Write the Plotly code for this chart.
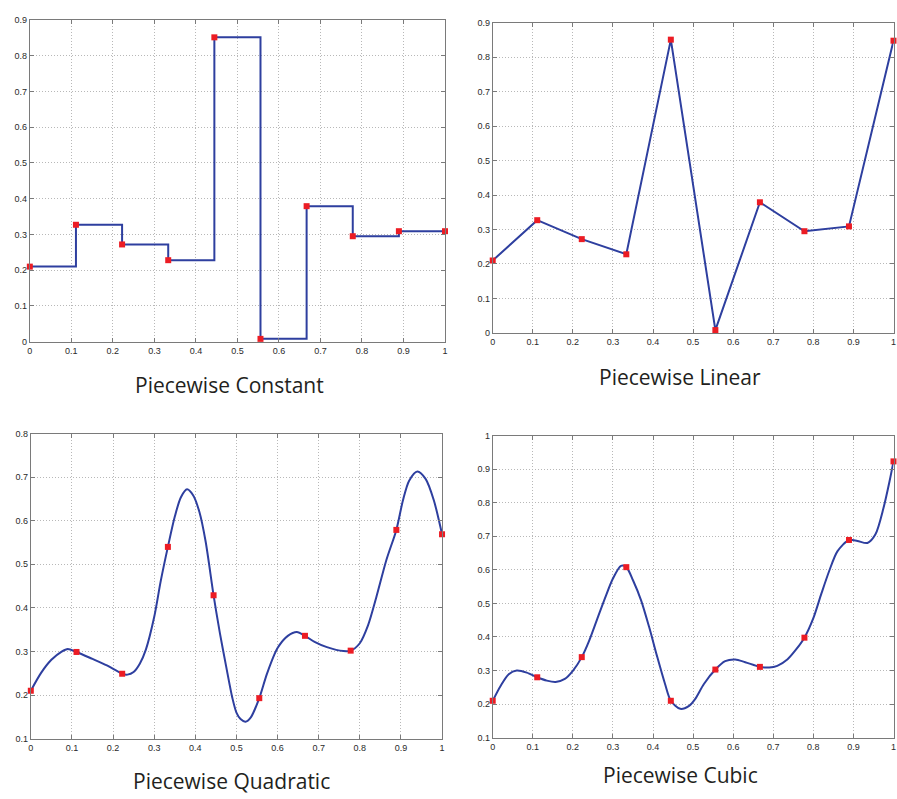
import plotly.graph_objects as go

# Sample abscissae shared by all four panels
knot_x = [0.0, 1/9, 2/9, 3/9, 4/9, 5/9, 6/9, 7/9, 8/9, 1.0]

# Data values for each panel
const_y = [0.21, 0.327, 0.272, 0.228, 0.851, 0.008, 0.379, 0.295, 0.309, 0.309]
linear_y = [0.21, 0.327, 0.272, 0.228, 0.851, 0.008, 0.379, 0.295, 0.309, 0.848]
quad_y = [0.21, 0.299, 0.249, 0.54, 0.429, 0.193, 0.336, 0.302, 0.579, 0.569]
cubic_y = [0.21, 0.28, 0.34, 0.608, 0.21, 0.303, 0.311, 0.398, 0.689, 0.923]

# Interpolating curves (quadratic and cubic pieces)
quad_curve_x = [0.0, 0.025, 0.05, 0.075, 0.09, 1/9, 0.15, 0.185, 2/9, 0.235, 0.25,
                0.265, 0.28, 0.3, 0.316, 3/9, 0.35, 0.365, 0.38, 0.395, 0.41, 0.425,
                4/9, 0.46, 0.475, 0.49, 0.5, 0.51, 0.522, 0.535, 5/9, 0.575, 0.6,
                0.625, 0.647, 6/9, 0.69, 0.72, 0.76, 7/9, 0.8, 0.82, 0.84, 0.865,
                8/9, 0.905, 0.92, 0.94, 0.96, 0.98, 1.0]
quad_curve_y = [0.21, 0.251, 0.281, 0.30, 0.306, 0.299, 0.283, 0.268, 0.249, 0.247, 0.253,
                0.272, 0.305, 0.379, 0.462, 0.54, 0.609, 0.654, 0.672, 0.658, 0.62, 0.553,
                0.429, 0.341, 0.266, 0.194, 0.16, 0.145, 0.139, 0.149, 0.193, 0.251, 0.308,
                0.336, 0.345, 0.336, 0.322, 0.31, 0.301, 0.302, 0.319, 0.36, 0.424, 0.511,
                0.579, 0.647, 0.692, 0.713, 0.696, 0.647, 0.569]

cubic_curve_x = [0.0, 0.02, 0.04, 0.06, 0.085, 1/9, 0.135, 0.157, 0.18, 0.2, 2/9,
                 0.24, 0.26, 0.28, 0.3, 0.32, 3/9, 0.35, 0.37, 0.39, 0.41, 0.43,
                 4/9, 0.468, 0.49, 0.505, 0.527, 5/9, 0.58, 0.605, 0.63, 6/9, 0.69,
                 0.71, 0.735, 0.757, 7/9, 0.8, 0.82, 0.84, 0.86, 8/9, 0.91, 0.935,
                 0.955, 0.975, 0.99, 1.0]
cubic_curve_y = [0.21, 0.255, 0.289, 0.30, 0.294, 0.28, 0.27, 0.266, 0.275, 0.299, 0.34,
                 0.387, 0.451, 0.515, 0.574, 0.612, 0.608, 0.569, 0.51, 0.431, 0.343, 0.26,
                 0.21, 0.186, 0.195, 0.215, 0.26, 0.303, 0.328, 0.333, 0.325, 0.311, 0.309,
                 0.314, 0.333, 0.363, 0.398, 0.456, 0.529, 0.598, 0.655, 0.689, 0.686, 0.68,
                 0.706, 0.784, 0.863, 0.923]

titles = ["Piecewise Constant", "Piecewise Linear", "Piecewise Quadratic", "Piecewise Cubic"]

x_ticks = [i / 10 for i in range(11)]
x_tick_text = ["0", "0.1", "0.2", "0.3", "0.4", "0.5", "0.6", "0.7", "0.8", "0.9", "1"]
y_ranges = [(0.0, 0.9), (0.0, 0.9), (0.1, 0.8), (0.1, 1.0)]

LINE = "#2e3f9f"
MARK = "#ec1c24"
W, H = 897, 799

# Panel boxes in pixels: (left, right, top, bottom)
boxes = [(27, 445, 15, 341), (493, 896.5, 18, 332), (28, 442, 434, 743), (493, 896.5, 436, 742)]

fig = go.Figure()

# Curves
fig.add_trace(go.Scatter(x=knot_x, y=const_y, mode="lines", line=dict(color=LINE, width=2, shape="hv"),
                         xaxis="x", yaxis="y"))
fig.add_trace(go.Scatter(x=knot_x, y=linear_y, mode="lines", line=dict(color=LINE, width=2),
                         xaxis="x2", yaxis="y2"))
fig.add_trace(go.Scatter(x=quad_curve_x, y=quad_curve_y, mode="lines",
                         line=dict(color=LINE, width=2, shape="spline", smoothing=0.8),
                         xaxis="x3", yaxis="y3"))
fig.add_trace(go.Scatter(x=cubic_curve_x, y=cubic_curve_y, mode="lines",
                         line=dict(color=LINE, width=2, shape="spline", smoothing=0.8),
                         xaxis="x4", yaxis="y4"))

# Data markers
for i, ys in enumerate([const_y, linear_y, quad_y, cubic_y]):
    sfx = "" if i == 0 else str(i + 1)
    fig.add_trace(go.Scatter(x=knot_x, y=ys, mode="markers", cliponaxis=False,
                             marker=dict(symbol="square", size=6, color=MARK, line=dict(width=0)),
                             xaxis="x" + sfx, yaxis="y" + sfx))

axis_common = dict(
    showgrid=True, gridcolor="#b8b8b8", griddash="1px,2px", gridwidth=1,
    showline=True, linecolor="#7a7a7a", linewidth=1, mirror="ticks",
    ticks="inside", ticklen=4, tickcolor="#7a7a7a",
    tickfont=dict(family="Liberation Sans, Arial", size=9, color="#2a2a2a"),
    ticklabeloverflow="allow",
    zeroline=False, fixedrange=True,
)

layout = dict(width=W, height=H, margin=dict(l=0, r=0, t=0, b=0),
              paper_bgcolor="white", plot_bgcolor="white", showlegend=False)

for i, (l, r, t, b) in enumerate(boxes):
    sfx = "" if i == 0 else str(i + 1)
    lo, hi = y_ranges[i]
    y_ticks = [round(lo + k * 0.1, 1) for k in range(int(round((hi - lo) / 0.1)) + 1)]
    y_text = [("%g" % v) for v in y_ticks]
    layout["xaxis" + sfx] = dict(axis_common, domain=[l / W, r / W], range=[0, 1],
                                 tickvals=x_ticks, ticktext=x_tick_text,
                                 anchor="y" + sfx)
    layout["yaxis" + sfx] = dict(axis_common, domain=[1 - b / H, 1 - t / H], range=[lo, hi],
                                 tickvals=y_ticks, ticktext=y_text,
                                 anchor="x" + sfx)

fig.update_layout(**layout)

# Panel captions
title_pos = [(228, 385), (682, 377), (230, 786), (682, 780)]
for text, (cx, cy) in zip(titles, title_pos):
    fig.add_annotation(text=text, x=cx / W, y=1 - cy / H, xref="paper", yref="paper",
                       xanchor="center", yanchor="middle", showarrow=False,
                       font=dict(family="Open Sans", size=21, color="#231f20"))

fig.write_html("out.html")
